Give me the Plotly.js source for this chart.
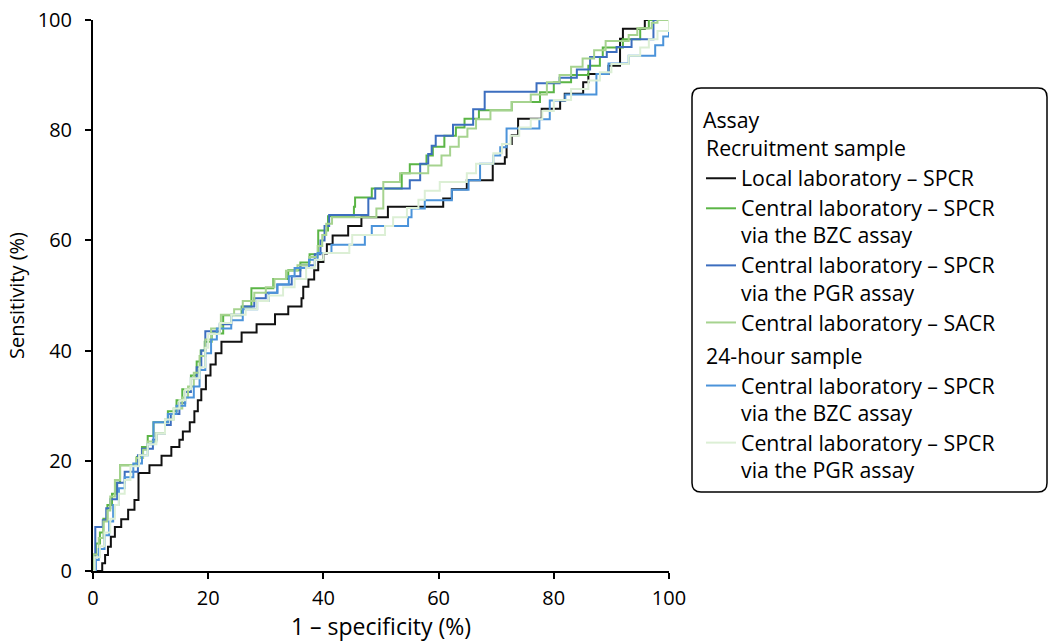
<!DOCTYPE html>
<html>
<head>
<meta charset="utf-8">
<script src="https://cdn.plot.ly/plotly-3.0.1.min.js"></script>
<style>html,body{margin:0;padding:0;background:#fff;}#chart{width:1052px;height:642px;}</style>
</head>
<body>
<div id="chart"></div>
<script>
// ---- Data ----
const xTitle = "1 – specificity (%)";
const yTitle = "Sensitivity (%)";
const legendTitle = "Assay";
const groupTitles = ["Recruitment sample", "24-hour sample"];
const seriesNames = [
  "Local laboratory – SPCR",
  "Central laboratory – SPCR<br>via the BZC assay",
  "Central laboratory – SPCR<br>via the PGR assay",
  "Central laboratory – SACR",
  "Central laboratory – SPCR<br>via the BZC assay",
  "Central laboratory – SPCR<br>via the PGR assay"
];
const seriesGroups = [0, 0, 0, 0, 1, 1];
const tickVals = [0, 20, 40, 60, 80, 100];

// Recruitment sample – local laboratory SPCR
const xLocal = [0, 1.6, 2.1, 2.6, 3.1, 3.8, 4.9, 6.1, 7.2, 7.9, 9.8, 11.9, 13.6, 15.0, 15.6, 16.8, 17.6, 18.2, 18.8, 19.6, 20.4, 21.3, 22.3, 25.8, 28.4, 31.6, 33.9, 36.2, 36.5, 37.4, 38.4, 39.1, 40.0, 40.6, 41.6, 44.3, 46.6, 51.2, 60.8, 62.3, 64.9, 69.4, 71.5, 71.8, 72.7, 73.8, 77.9, 81.1, 81.9, 85.1, 86.0, 89.5, 91.5, 92.0, 95.8, 100];
const yLocal = [0, 1.4, 2.9, 4.4, 6.2, 8.0, 9.4, 11.1, 12.9, 17.8, 19.2, 20.9, 22.5, 23.8, 25.3, 27.0, 29.0, 31.0, 33.0, 35.5, 37.5, 39.5, 41.6, 43.3, 44.8, 46.6, 48.0, 49.5, 51.6, 52.9, 54.6, 56.1, 57.6, 59.3, 60.9, 62.6, 64.2, 66.1, 67.6, 69.3, 70.9, 73.9, 75.1, 77.5, 79.1, 82.1, 83.9, 85.4, 86.6, 88.7, 90.2, 91.7, 96.6, 98.4, 100, 100];

// Recruitment sample – central laboratory SPCR via BZC
const xRecBZC = [0, 0.2, 0.5, 1.2, 1.8, 2.5, 3.3, 4.0, 4.7, 7.6, 8.5, 9.5, 10.5, 13.0, 14.5, 15.5, 17.0, 18.0, 18.7, 19.4, 20.6, 22.6, 25.8, 27.5, 31.3, 33.9, 36.0, 37.6, 39.1, 40.8, 45.3, 45.5, 48.4, 53.6, 55.0, 57.9, 59.0, 61.0, 63.0, 64.5, 67.0, 72.7, 77.6, 80.0, 83.0, 86.0, 88.0, 88.5, 92.0, 95.0, 96.5, 100];
const yRecBZC = [0, 3.0, 5.0, 7.0, 9.5, 12.0, 14.0, 16.0, 19.2, 20.7, 22.5, 24.5, 27.0, 29.0, 31.0, 33.0, 35.5, 38.0, 40.0, 41.6, 43.1, 46.4, 48.0, 51.3, 53.0, 54.6, 56.0, 57.5, 61.8, 64.4, 66.1, 67.8, 69.4, 72.2, 73.8, 75.4, 77.0, 79.0, 80.5, 82.1, 83.6, 85.1, 86.9, 88.7, 90.0, 91.7, 93.3, 95.0, 96.5, 98.5, 100, 100];

// Recruitment sample – central laboratory SPCR via PGR
const xRecPGR = [0, 0.4, 1.7, 2.3, 3.0, 4.2, 5.5, 7.8, 8.5, 10.4, 11.0, 12.5, 13.5, 15.0, 16.0, 17.0, 18.0, 18.8, 19.5, 22.0, 24.0, 26.0, 28.0, 30.0, 32.0, 34.5, 36.0, 38.5, 39.5, 40.2, 41.0, 47.8, 49.0, 55.0, 56.8, 58.2, 58.8, 59.5, 62.5, 66.0, 68.0, 74.7, 77.0, 81.0, 84.0, 86.3, 89.2, 90.9, 93.5, 97.3, 100];
const yRecPGR = [0, 8.0, 9.2, 11.4, 13.0, 16.0, 18.0, 21.0, 22.2, 23.8, 25.0, 26.5, 28.5, 30.5, 32.5, 35.0, 37.0, 40.0, 43.5, 44.8, 46.5, 48.0, 49.5, 50.5, 52.0, 53.5, 55.5, 57.5, 60.0, 62.6, 64.6, 67.6, 69.4, 70.9, 73.9, 75.7, 77.2, 79.0, 81.0, 83.8, 87.0, 87.0, 88.5, 89.5, 91.0, 93.3, 94.2, 95.1, 96.5, 100, 100];

// Recruitment sample – central laboratory SACR
const xRecSACR = [0, 0.1, 1.0, 1.8, 2.5, 3.0, 3.8, 4.7, 7.5, 8.7, 9.5, 11.0, 12.5, 14.0, 15.5, 16.5, 17.5, 18.5, 19.5, 20.5, 22.2, 24.5, 26.0, 28.0, 30.0, 31.5, 33.5, 35.5, 37.5, 39.0, 39.8, 40.5, 41.5, 49.2, 50.4, 53.3, 58.2, 60.5, 62.0, 63.5, 65.0, 66.5, 69.0, 72.7, 76.0, 78.8, 81.0, 83.0, 85.0, 87.0, 89.0, 93.0, 94.5, 97.0, 98.0, 100];
const yRecSACR = [0, 3.0, 6.0, 9.0, 11.0, 13.5, 16.5, 19.2, 20.5, 22.0, 23.5, 25.0, 27.5, 29.5, 31.5, 33.5, 36.0, 39.0, 42.0, 44.0, 46.5, 47.5, 49.0, 50.5, 51.5, 53.0, 54.5, 55.5, 57.0, 59.0, 61.0, 63.0, 64.2, 65.8, 70.6, 72.2, 73.6, 75.4, 77.0, 78.8, 80.3, 82.0, 83.6, 85.1, 86.5, 88.7, 90.0, 91.5, 93.0, 94.5, 96.2, 97.3, 98.5, 99.5, 100, 100];

// 24-hour sample – central laboratory SPCR via BZC
const x24BZC = [0, 0.5, 1.0, 2.0, 2.8, 3.5, 4.5, 5.5, 7.0, 8.5, 9.5, 10.5, 13.0, 14.5, 16.0, 17.5, 18.5, 19.5, 20.5, 21.5, 24.0, 26.0, 28.5, 30.5, 32.0, 34.0, 35.0, 37.5, 39.0, 41.4, 47.2, 48.4, 54.7, 55.3, 57.6, 62.3, 65.2, 67.2, 69.5, 70.7, 71.8, 77.5, 79.3, 82.0, 87.4, 89.5, 93.0, 97.6, 99.0, 100];
const y24BZC = [0, 2.0, 4.0, 6.5, 9.0, 12.0, 15.0, 17.0, 19.5, 21.0, 23.0, 27.0, 28.5, 30.0, 31.5, 33.5, 36.5, 39.5, 42.0, 44.0, 45.5, 47.5, 49.0, 50.5, 52.0, 53.5, 55.0, 56.5, 57.7, 59.2, 61.0, 62.6, 64.2, 65.8, 67.3, 69.2, 70.9, 73.9, 75.4, 76.9, 80.3, 82.0, 85.4, 86.5, 90.2, 92.1, 93.5, 95.4, 97.0, 100];

// 24-hour sample – central laboratory SPCR via PGR
const x24PGR = [0, 0.3, 1.2, 2.0, 3.0, 3.8, 4.5, 5.5, 6.5, 8.0, 9.5, 11.0, 12.5, 14.0, 15.0, 16.0, 17.0, 18.5, 19.5, 20.0, 22.0, 24.0, 26.5, 28.5, 30.5, 33.0, 35.0, 37.0, 38.5, 40.0, 44.5, 45.0, 50.7, 52.1, 54.5, 56.5, 57.6, 60.2, 64.9, 66.5, 69.5, 71.0, 72.5, 74.0, 76.0, 78.0, 80.0, 83.0, 86.0, 88.0, 90.0, 93.0, 95.0, 96.5, 98.0, 100];
const y24PGR = [0, 2.5, 4.5, 7.0, 9.5, 12.0, 14.0, 16.5, 19.0, 21.0, 23.0, 25.0, 27.5, 29.5, 31.0, 33.0, 35.0, 37.0, 40.5, 43.0, 45.0, 46.5, 47.5, 49.0, 50.0, 51.5, 53.0, 55.0, 56.5, 57.7, 59.2, 61.0, 62.6, 64.2, 65.9, 67.4, 69.0, 70.6, 72.2, 73.9, 75.8, 77.5, 79.0, 80.5, 82.0, 83.5, 85.5, 87.5, 89.0, 90.5, 92.0, 93.5, 95.0, 96.5, 98.0, 100];

const seriesX = [xLocal, xRecBZC, xRecPGR, xRecSACR, x24BZC, x24PGR];
const seriesY = [yLocal, yRecBZC, yRecPGR, yRecSACR, y24BZC, y24PGR];
const seriesColors = ["#111111", "#5bb546", "#3c6ebf", "#a6d38f", "#4b93da", "#dcefd5"];

// ---- Chart ----
const FONT = "'Open Sans', 'Noto Sans', sans-serif";
const FS = 20;          // tick labels / y title
const LEG_FS = 20.8;    // legend layout size (controls row spacing)
const LEG_TXT = 21.3;   // legend glyph size
const big = (s, size) => s.split("<br>").map(p => `<span style="font-size:${size}px">${p}</span>`).join("<br>");

const traces = seriesX.map((xs, i) => ({
  type: "scatter",
  mode: "lines",
  x: xs,
  y: seriesY[i],
  name: big(seriesNames[i], LEG_TXT),
  legendgroup: "g" + seriesGroups[i],
  legendgrouptitle: {text: big(groupTitles[seriesGroups[i]], LEG_TXT), font: {family: FONT, size: LEG_FS, color: "#000"}},
  line: {shape: "hv", color: seriesColors[i], width: 2},
  hoverinfo: "x+y+name"
}));

// plot area in pixels: left 93, right 669, top 20, bottom 571
const L = 93, R = 669, T = 20, B = 571, W = 1052, H = 642;
const px = v => (v - L) / (R - L);
const py = v => (B - v) / (B - T);
const bx0 = px(692), bx1 = px(1047), by0 = py(492), by1 = py(88);
const rx = 9 / (R - L), ry = 9 / (B - T);
const boxPath = `M ${bx0 + rx} ${by1} L ${bx1 - rx} ${by1} Q ${bx1} ${by1} ${bx1} ${by1 - ry} ` +
  `L ${bx1} ${by0 + ry} Q ${bx1} ${by0} ${bx1 - rx} ${by0} L ${bx0 + rx} ${by0} ` +
  `Q ${bx0} ${by0} ${bx0} ${by0 + ry} L ${bx0} ${by1 - ry} Q ${bx0} ${by1} ${bx0 + rx} ${by1} Z`;

const axisCommon = {
  range: [0, 100],
  tickvals: tickVals,
  ticktext: tickVals.map(String),
  showline: true,
  linecolor: "#000",
  linewidth: 2,
  ticks: "outside",
  ticklen: 6,
  tickwidth: 2,
  tickcolor: "#000",
  showgrid: false,
  zeroline: false,
  tickfont: {family: FONT, size: FS, color: "#000"},
  fixedrange: true
};

const layout = {
  width: W,
  height: H,
  margin: {l: L, r: W - R, t: T, b: H - B, pad: 0},
  paper_bgcolor: "#fff",
  plot_bgcolor: "#fff",
  font: {family: FONT, size: FS, color: "#000"},
  xaxis: Object.assign({}, axisCommon, {
    ticklabelstandoff: 2,
    title: {text: xTitle, font: {family: FONT, size: 23, color: "#000"}, standoff: 2}
  }),
  yaxis: Object.assign({}, axisCommon, {
    ticklabelstandoff: 9,
    title: {text: yTitle, font: {family: FONT, size: FS, color: "#000"}, standoff: 8}
  }),
  showlegend: true,
  legend: {
    title: {text: big(legendTitle, LEG_TXT), font: {family: FONT, size: 24, color: "#000"}},
    x: px(701), y: py(97), xanchor: "left", yanchor: "top",
    traceorder: "grouped",
    tracegroupgap: 3,
    valign: "top",
    bgcolor: "rgba(0,0,0,0)",
    borderwidth: 0,
    font: {family: FONT, size: LEG_FS, color: "#000"},
    itemwidth: 30
  },
  shapes: [{
    type: "path", xref: "paper", yref: "paper", path: boxPath,
    line: {color: "#000", width: 1.5}, fillcolor: "rgba(0,0,0,0)", layer: "below"
  }]
};

Plotly.newPlot("chart", traces, layout, {displayModeBar: false, staticPlot: true});
</script>
</body>
</html>
